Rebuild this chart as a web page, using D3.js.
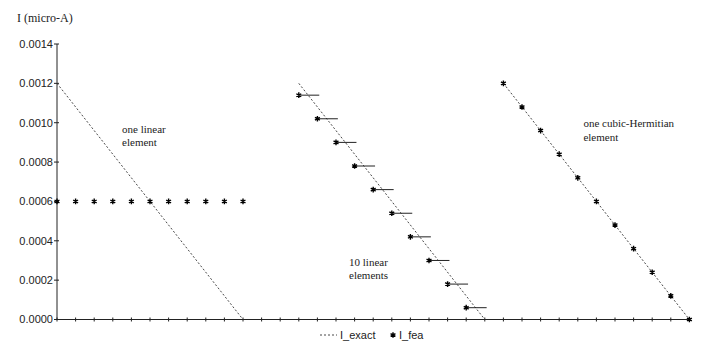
<!DOCTYPE html>
<html>
<head>
<meta charset="utf-8">
<script src="https://cdn.jsdelivr.net/npm/d3@7"></script>
<style>
  body { margin: 0; background: #fff; }
  svg text { fill: #222; }
  .tick-label { font-family: "Liberation Sans", Arial, sans-serif; font-size: 11px; }
  .note { font-family: "Liberation Serif", "Times New Roman", serif; font-size: 11px; }
</style>
</head>
<body>
<svg id="chart" width="701" height="347"></svg>
<script>
// y axis tick labels
var yTicks = [0, 0.0002, 0.0004, 0.0006, 0.0008, 0.0010, 0.0012, 0.0014];
// x positions in element units (0..34), unlabelled ticks
var xTicks = d3.range(0, 35);

// panel 1: one linear element
var exact1 = [[0, 0.0012], [10, 0]];
var fea1x = [0, 1, 2, 3, 4, 5, 6, 7, 8, 9, 10];
var fea1y = [0.0006, 0.0006, 0.0006, 0.0006, 0.0006, 0.0006, 0.0006, 0.0006, 0.0006, 0.0006, 0.0006];

// panel 2: 10 linear elements (constant current per element)
var exact2 = [[13, 0.0012], [23, 0]];
var fea2x = [13, 14, 15, 16, 17, 18, 19, 20, 21, 22];
var fea2y = [0.00114, 0.00102, 0.00090, 0.00078, 0.00066, 0.00054, 0.00042, 0.00030, 0.00018, 0.00006];

// panel 3: one cubic-Hermitian element
var exact3 = [[24, 0.0012], [34, 0]];
var fea3x = [24, 25, 26, 27, 28, 29, 30, 31, 32, 33, 34];
var fea3y = [0.0012, 0.00108, 0.00096, 0.00084, 0.00072, 0.0006, 0.00048, 0.00036, 0.00024, 0.00012, 0];

var notes = [
  {x: 3.5, y: 0.000948, lines: ["one linear", "element"]},
  {x: 15.7, y: 0.000272, lines: ["10 linear", "elements"]},
  {x: 28.3, y: 0.000978, lines: ["one cubic-Hermitian", "element"]}
];

var svg = d3.select("#chart");
var x = d3.scaleLinear().domain([0, 34]).range([57, 689.4]);
var y = d3.scaleLinear().domain([0, 0.0014]).range([319.5, 44]);

var ink = "#222";

// axes
var xAxis = svg.append("g").attr("transform", "translate(0," + y(0) + ")");
xAxis.append("line").attr("x1", x(0)).attr("x2", x(34) + 1).attr("stroke", ink);
xAxis.selectAll(".xt").data(xTicks).enter().append("line")
  .attr("x1", function(d) { return x(d); }).attr("x2", function(d) { return x(d); })
  .attr("y1", -2).attr("y2", 2).attr("stroke", ink);

var yAxis = svg.append("g").attr("transform", "translate(" + x(0) + ",0)");
yAxis.append("line").attr("y1", y(0.0014)).attr("y2", y(0)).attr("stroke", ink);
var yt = yAxis.selectAll(".yt").data(yTicks).enter().append("g")
  .attr("transform", function(d) { return "translate(0," + y(d) + ")"; });
yt.append("line").attr("x1", -3).attr("x2", 2).attr("stroke", ink);
yt.append("text").attr("class", "tick-label")
  .attr("x", -4).attr("dy", "0.35em").attr("text-anchor", "end")
  .text(function(d) { return d.toFixed(4); });

svg.append("text").attr("class", "note").style("font-size", "12px")
  .attr("x", 17).attr("y", 22).text("I (micro-A)");

// exact lines
var line = d3.line().x(function(d) { return x(d[0]); }).y(function(d) { return y(d[1]); });
[exact1, exact2, exact3].forEach(function(e) {
  svg.append("path").attr("d", line(e)).attr("fill", "none")
    .attr("stroke", "#333").attr("stroke-width", 0.9).attr("stroke-dasharray", "2,2");
});

// element-wise constant currents in panel 2
svg.selectAll(".seg").data(fea2x).enter().append("line")
  .attr("x1", function(d) { return x(d); })
  .attr("x2", function(d) { return x(d + 1.1); })
  .attr("y1", function(d, i) { return y(fea2y[i]); })
  .attr("y2", function(d, i) { return y(fea2y[i]); })
  .attr("stroke", ink).attr("stroke-width", 1);

// fea markers
var star = d3.symbol().type(d3.symbolAsterisk).size(22);
function drawPts(xs, ys) {
  svg.append("g").selectAll("path").data(xs).enter().append("path")
    .attr("d", star)
    .attr("transform", function(d, i) { return "translate(" + x(d) + "," + y(ys[i]) + ")"; })
    .attr("fill", "none").attr("stroke", "#000").attr("stroke-width", 1.4);
}
drawPts(fea1x, fea1y);
drawPts(fea2x, fea2y);
drawPts(fea3x, fea3y);

// annotations
notes.forEach(function(n) {
  var t = svg.append("text").attr("class", "note")
    .attr("x", x(n.x)).attr("y", y(n.y));
  n.lines.forEach(function(s, i) {
    t.append("tspan").attr("x", x(n.x)).attr("dy", i ? 13.5 : 0).text(s);
  });
});

// legend
var lg = svg.append("g").attr("transform", "translate(0,336)");
lg.append("line").attr("x1", 320).attr("x2", 337).attr("y1", -1).attr("y2", -1)
  .attr("stroke", "#333").attr("stroke-width", 0.9).attr("stroke-dasharray", "2,2");
lg.append("text").attr("class", "tick-label").attr("x", 340).attr("y", 3).text("I_exact");
lg.append("path").attr("d", star).attr("transform", "translate(393,-1)")
  .attr("fill", "none").attr("stroke", "#000").attr("stroke-width", 1.4);
lg.append("text").attr("class", "tick-label").attr("x", 399).attr("y", 3).text("I_fea");
</script>
</body>
</html>
